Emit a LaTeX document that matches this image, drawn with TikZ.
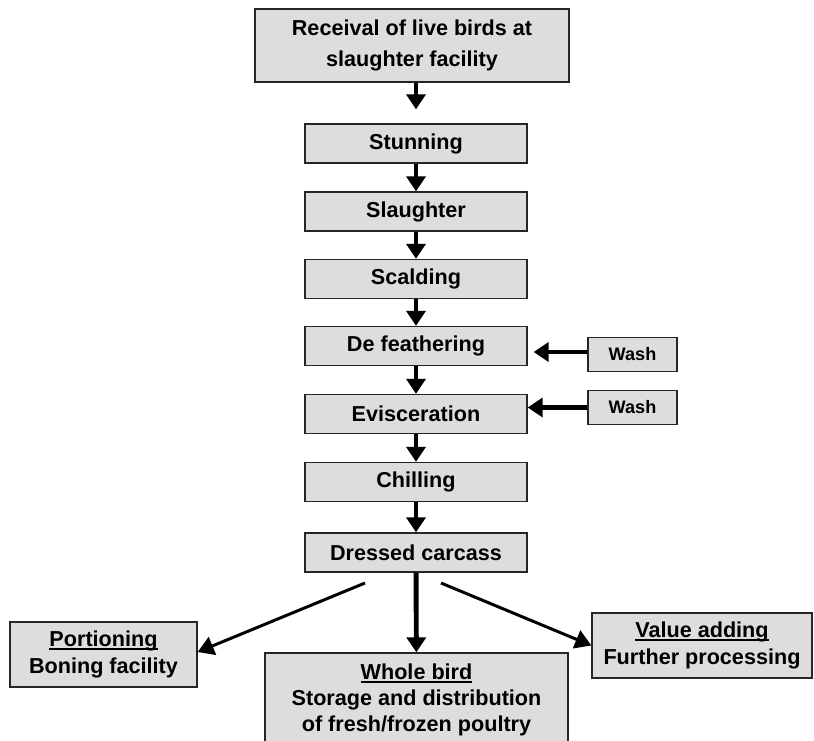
\documentclass[tikz,border=0pt]{standalone}
\usepackage{fontspec}
\setmainfont{Liberation Sans}
\usetikzlibrary{arrows.meta}
\definecolor{boxgray}{HTML}{DDDDDD}
\newcommand{\undl}[1]{\setbox0\hbox{#1}\rlap{\rule[-2pt]{\wd0}{1.1pt}}\box0}
\begin{document}
\begin{tikzpicture}[x=0.02cm,y=-0.02cm,
  box/.style={draw=black!85,line width=0.8pt,fill=boxgray,inner sep=0pt,align=center,font=\fontsize{12.3}{15}\selectfont\bfseries},
  stepbox/.style={box,minimum width=4.44cm,minimum height=0.78cm},
  washbox/.style={box,minimum width=1.78cm,minimum height=0.68cm,font=\fontsize{10.3}{12}\selectfont\bfseries},
  flow/.style={line width=2.8pt,-{Triangle[length=0.3cm,width=0.38cm]}},
  branch/.style={line width=1.7pt,-{Triangle[length=0.32cm,width=0.38cm]}}]
\useasboundingbox (0,0) rectangle (814,740);
\node[box,minimum width=6.28cm,minimum height=1.46cm,font=\fontsize{12.3}{17.6}\selectfont\bfseries] (recv) at (412,45.5) {Receival of live birds at\\slaughter facility};
\node[stepbox] (stun) at (416,143.5) {Stunning};
\node[stepbox] (slaugh) at (416,211.5) {Slaughter};
\node[stepbox] (scald) at (416,279) {Scalding};
\node[stepbox] (defeather) at (416,346) {De feathering};
\node[stepbox] (evisc) at (416,414) {Evisceration};
\node[stepbox] (chill) at (416,482) {Chilling};
\node[stepbox] (dressed) at (416,552.5) {Dressed carcass};
\node[washbox] (washa) at (632.5,354.5) {Wash};
\node[washbox] (washb) at (632.5,407.5) {Wash};
\node[box,minimum width=3.74cm,minimum height=1.3cm] (portion) at (103.5,654.5) {\undl{Portioning}\\Boning facility};
\node[box,minimum width=6.06cm,minimum height=1.88cm] (whole) at (416.5,700) {\undl{Whole bird}\\Storage and distribution\\ of fresh/frozen poultry};
\node[box,minimum width=4.4cm,minimum height=1.3cm] (value) at (702,645.5) {\undl{Value adding}\\Further processing};
\coordinate (dl) at (365,583);
\coordinate (dr) at (441,583);
\draw[flow,shorten >=0.28cm] (recv.south -| stun.north) -- (stun.north);
\draw[flow] (stun) -- (slaugh);
\draw[flow] (slaugh) -- (scald);
\draw[flow] (scald) -- (defeather);
\draw[flow] (defeather) -- (evisc);
\draw[flow] (evisc) -- (chill);
\draw[flow] (chill) -- (dressed);
\draw[flow,shorten >=0.12cm] (washa.west |- 0,352) -- (defeather.east |- 0,352);
\draw[flow] (washb.west) -- (washb.west -| evisc.east);
\draw[branch] (dl) -- (portion.east |- 0,652);
\draw[flow] (dressed) -- (whole);
\draw[branch] (dr) -- (value.west);
\end{tikzpicture}
\end{document}
